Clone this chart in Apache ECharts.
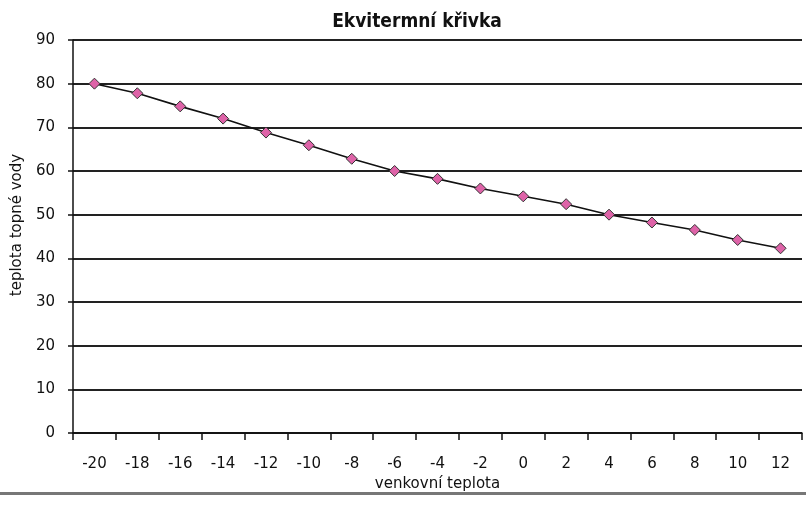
<!DOCTYPE html>
<html><head><meta charset="utf-8">
<script src="https://cdn.jsdelivr.net/npm/echarts@6/dist/echarts.min.js"></script>
<style>html,body{margin:0;padding:0;background:#fff}#c{width:806px;height:509px}</style>
</head><body><div id="c"></div>
<script>
const categories = ['-20','-18','-16','-14','-12','-10','-8','-6','-4','-2','0','2','4','6','8','10','12'];
const waterTemp = [80, 77.8, 74.8, 72, 68.8, 65.9, 62.8, 60, 58.2, 56, 54.2, 52.4, 50, 48.2, 46.5, 44.2, 42.3];
const yTicks = {min: 0, max: 90, interval: 10};

const FONT = 'DejaVu Sans';
const chart = echarts.init(document.getElementById('c'));
chart.setOption({
  backgroundColor: '#fff',
  animation: false,
  title: {
    text: 'Ekvitermní křivka', left: 412, top: 8, textAlign: 'center',
    textStyle: {fontFamily: 'DejaVu Sans Condensed', fontSize: 19, fontWeight: 'bold', color: '#111'}
  },
  grid: {left: 73, right: 4, top: 40, bottom: 76},
  xAxis: {
    type: 'category', data: categories, boundaryGap: true,
    name: 'venkovní teplota', nameLocation: 'middle', nameGap: 42,
    nameTextStyle: {fontFamily: FONT, fontSize: 15, color: '#111'},
    axisLine: {lineStyle: {color: '#111', width: 1.5}},
    axisTick: {show: true, length: 7, lineStyle: {color: '#111', width: 1.5}},
    axisLabel: {fontFamily: FONT, fontSize: 15, color: '#111', margin: 24, interval: 0},
    splitLine: {show: false}
  },
  yAxis: {
    type: 'value', min: yTicks.min, max: yTicks.max, interval: yTicks.interval,
    axisLine: {show: true, lineStyle: {color: '#111', width: 1.5}},
    axisTick: {show: true, length: 5, lineStyle: {color: '#111', width: 1.5}},
    axisLabel: {fontFamily: FONT, fontSize: 15, color: '#111', margin: 18},
    splitLine: {show: true, lineStyle: {color: '#222', width: 2.2}}
  },
  series: [{
    type: 'line', data: waterTemp,
    symbol: 'diamond', symbolSize: 11,
    lineStyle: {color: '#111', width: 1.6},
    itemStyle: {color: '#de63a8', borderColor: '#333', borderWidth: 1},
    z: 5
  }],
  graphic: [
    {
      type: 'text', x: 17, y: 225, rotation: Math.PI / 2,
      style: {text: 'teplota topné vody', fontFamily: FONT, fontSize: 15, fill: '#111',
              align: 'center', verticalAlign: 'middle'}
    },
    {
      type: 'rect', shape: {x: 0, y: 492, width: 806, height: 3},
      style: {fill: '#777'}
    }
  ]
});
</script></body></html>
